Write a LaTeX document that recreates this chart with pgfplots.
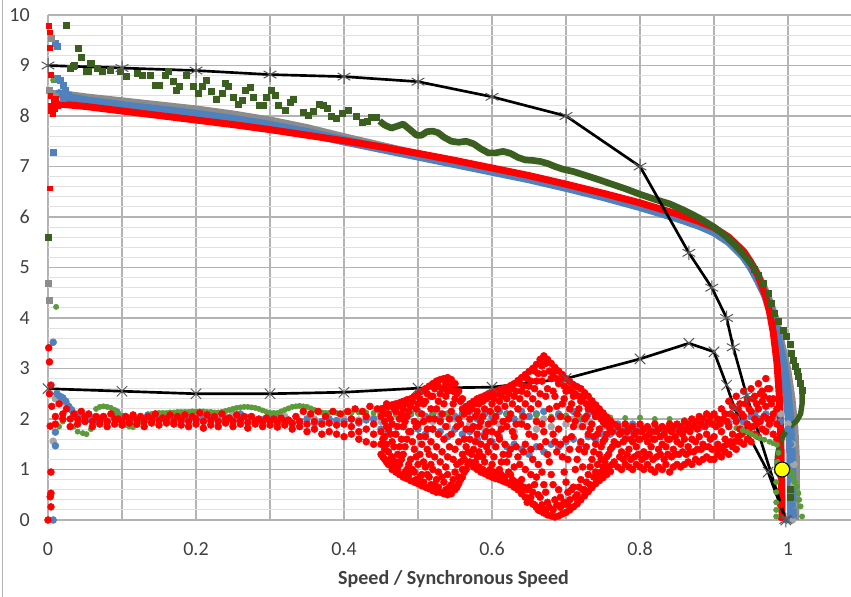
\documentclass[border=0pt]{standalone}
\usepackage{fontspec}
\setmainfont{Carlito}
\usepackage{pgfplots}
\pgfplotsset{compat=1.18}
\definecolor{cRed}{HTML}{FF0000}
\definecolor{cBlue}{HTML}{4F81BD}
\definecolor{cGrayU}{HTML}{8C8C8C}
\definecolor{cGrayL}{HTML}{A5A5A5}
\definecolor{cDkGreen}{HTML}{3A5F1E}
\definecolor{cLtGreen}{HTML}{5C9B3A}
\definecolor{gridMaj}{HTML}{B3B3B3}
\definecolor{gridMin}{HTML}{E0E0E0}
\definecolor{txt}{HTML}{404040}
\definecolor{mk}{HTML}{595959}
\definecolor{cYel}{HTML}{FFFF00}
\begin{document}
\begin{tikzpicture}
\begin{axis}[
  scale only axis, width=602.25pt, height=378.75pt,
  xmin=0, xmax=1.0851, ymin=0, ymax=10,
  clip=false,
  axis line style={draw=none},
  major tick length=0pt, minor tick length=0pt,
  xtick={0,0.1,0.2,0.3,0.4,0.5,0.6,0.7,0.8,0.9,1},
  xticklabels={0,{},0.2,{},0.4,{},0.6,{},0.8,{},1},
  ytick={0,1,2,3,4,5,6,7,8,9,10},
  minor y tick num=4,
  grid=both,
  major grid style={draw=gridMaj, line width=1.1pt},
  minor grid style={draw=gridMin, line width=0.75pt},
  /pgf/number format/assume math mode=true,
  tick label style={font=\fontsize{15}{18}\selectfont, text=txt},
  xticklabel style={anchor=base, yshift=-26.25pt},
  yticklabel style={anchor=east, inner sep=0pt, xshift=-13.5pt},
  every axis x label/.style={at={(axis description cs:0.5,0)}, anchor=base, yshift=-48pt, xshift=3pt, font=\bfseries\fontsize{15}{18}\selectfont, text=txt},
  xlabel={Speed / Synchronous Speed},
  sq/.style={only marks, mark=square*, mark size=2.25pt},
  dt/.style={only marks, mark=*, mark size=2.6pt},
]
% upper gray band
\addplot[cGrayU, line width=6.75pt, line join=round] coordinates {(0.012,8.45)(0.03,8.4)(0.05,8.36)(0.1,8.28)(0.15,8.2)(0.2,8.12)(0.25,8.02)(0.3,7.9)(0.35,7.75)(0.4,7.57)(0.45,7.4)(0.5,7.23)(0.55,7.08)(0.6,6.93)(0.65,6.78)(0.7,6.61)(0.75,6.43)(0.8,6.23)(0.85,6.01)(0.9,5.73)(0.92,5.54)(0.94,5.25)(0.955,4.95)(0.965,4.65)(0.975,4.3)(0.983,3.95)(0.99,3.5)(0.998,3.0)(1.004,2.4)(1.008,1.8)(1.01,1.2)(1.01,0.6)(1.009,0)};
% upper blue band
\addplot[cBlue, line width=7pt, line join=round] coordinates {(0.02,8.38)(0.05,8.3)(0.1,8.2)(0.15,8.12)(0.2,8.03)(0.25,7.93)(0.3,7.81)(0.35,7.67)(0.4,7.51)(0.45,7.36)(0.5,7.21)(0.55,7.06)(0.6,6.91)(0.65,6.76)(0.7,6.59)(0.75,6.41)(0.8,6.21)(0.85,5.99)(0.88,5.84)(0.9,5.71)(0.92,5.52)(0.94,5.23)(0.95,5.02)(0.96,4.75)(0.97,4.45)(0.978,4.1)(0.985,3.65)(0.993,3.1)(0.998,2.6)(1.002,2.0)(1.004,1.3)(1.005,0.6)(1.005,0)};
\addplot[cBlue, sq] coordinates {(0.008,8.72)(0.012,8.74)(0.016,8.7)(0.02,8.6)(0.024,8.5)(0.028,8.42)(0.015,8.45)(0.02,8.35)(0.01,9.44)(0.012,9.38)(0.007,7.29)};
\addplot[cGrayU, sq] coordinates {(0.005,9.54)(0.002,8.51)(0.0,4.69)(0.002,4.36)(0.006,8.45)(0.01,8.4)};
% lower gray dots
\addplot[cGrayL, dt] coordinates {(0.007,1.56)(0.01,2.4)(0.015,2.45)(0.02,2.38)(0.025,2.3)(0.03,2.2)(0.04,2.1)(0.05,2.05)(0.06,1.98)(0.07,2.02)(0.08,1.96)(0.1,2.02)(0.12,1.97)(0.14,2.03)(0.16,1.98)(0.18,2.02)(0.2,1.98)(0.22,2.02)(0.24,2.05)(0.25,2.1)(0.27,2.0)(0.3,2.0)(0.32,2.05)(0.34,1.96)(0.36,2.0)(0.38,1.95)(0.4,2.0)(0.42,1.98)(0.44,2.02)(0.45,1.95)(0.46,2.1)(0.47,1.85)(0.48,2.0)(0.49,2.1)(0.5,1.9)(0.51,2.05)(0.52,1.95)(0.53,2.1)(0.54,1.85)(0.55,2.0)(0.56,2.1)(0.57,1.9)(0.58,2.05)(0.59,1.8)(0.6,2.0)(0.61,1.9)(0.62,2.1)(0.63,1.75)(0.64,1.95)(0.65,2.05)(0.66,1.8)(0.67,2.0)(0.68,1.85)(0.69,2.05)(0.7,1.9)(0.71,2.0)(0.72,1.85)(0.73,1.95)(0.74,2.05)(0.75,1.85)(0.76,1.95)(0.77,1.8)(0.78,1.9)(0.8,1.85)(0.82,1.82)(0.84,1.8)(0.86,1.85)(0.88,1.85)(0.9,1.9)(0.92,1.95)(0.94,1.9)(0.96,2.0)(0.973,1.84)(0.98,2.0)(0.99,2.1)(1.0,1.9)(1.006,1.5)(1.008,1.1)(1.008,0.7)(1.007,0.3)(1.006,0.0)};
% lower blue dots
\addplot[cBlue, dt] coordinates {(0.007,3.52)(0.01,1.74)(0.01,1.47)(0.007,0.0)(0.012,2.5)(0.016,2.45)(0.02,2.42)(0.024,2.35)(0.028,2.25)(0.032,2.18)(0.036,2.1)(0.04,2.05)(0.045,2.0)(0.05,1.98)(0.055,2.0)(0.06,2.02)(0.065,1.95)(0.07,2.0)(0.08,1.95)(0.09,2.08)(0.093,2.14)(0.1,2.05)(0.11,1.95)(0.12,1.98)(0.135,2.08)(0.14,1.95)(0.15,2.0)(0.16,1.97)(0.17,2.03)(0.18,1.95)(0.19,2.0)(0.2,1.97)(0.21,2.02)(0.22,2.05)(0.23,1.98)(0.24,1.95)(0.25,1.97)(0.26,2.1)(0.27,2.03)(0.28,1.95)(0.29,1.98)(0.3,2.05)(0.31,2.02)(0.32,1.96)(0.33,1.9)(0.34,1.95)(0.35,2.0)(0.36,1.92)(0.37,1.95)(0.38,2.0)(0.39,1.97)(0.4,1.95)(0.41,2.0)(0.42,1.92)(0.43,1.98)(0.44,2.0)
(0.45,2.1)(0.45,1.8)(0.46,2.05)(0.46,1.75)(0.47,2.15)(0.47,1.7)(0.48,2.0)(0.48,1.85)(0.49,2.1)(0.49,1.75)(0.5,2.15)(0.5,1.8)(0.51,2.05)(0.51,1.7)(0.52,2.1)(0.52,1.8)(0.53,2.0)(0.53,1.75)(0.54,2.1)(0.54,1.65)(0.55,2.05)(0.55,1.8)(0.56,2.1)(0.56,1.7)(0.57,2.15)(0.57,1.75)(0.58,2.0)(0.58,1.6)(0.59,2.1)(0.59,1.7)(0.6,2.05)(0.6,1.55)(0.61,2.15)(0.61,1.65)(0.62,2.1)(0.62,1.45)(0.63,2.0)(0.63,1.5)(0.64,2.15)(0.64,1.4)(0.65,2.05)(0.65,1.3)(0.66,2.1)(0.66,1.45)(0.67,2.15)(0.67,1.35)(0.68,2.0)(0.68,1.5)(0.69,2.1)(0.69,1.45)(0.7,2.05)(0.7,1.55)(0.71,2.15)(0.71,1.6)(0.72,2.0)(0.72,1.5)(0.73,2.1)(0.73,1.65)(0.74,2.05)(0.74,1.6)(0.75,2.0)(0.75,1.7)(0.76,1.95)(0.76,1.7)(0.77,1.9)(0.77,1.75)(0.78,1.85)(0.78,1.7)(0.79,1.9)(0.79,1.75)(0.8,1.85)(0.8,1.75)
(0.81,1.8)(0.82,1.75)(0.83,1.8)(0.84,1.78)(0.85,1.82)(0.86,1.8)(0.87,1.85)(0.88,1.82)(0.89,1.88)(0.9,1.9)(0.91,1.95)(0.92,1.9)(0.93,2.0)(0.94,1.95)(0.95,2.05)(0.955,2.1)(0.96,2.0)(0.97,2.1)(0.98,2.05)(0.99,1.95)(1.0,1.8)(1.003,1.5)(1.004,1.2)(1.005,0.9)(1.005,0.6)(1.006,0.3)(1.007,0.1)(0.998,0.0)};
% lower light green dots
\addplot[cLtGreen, only marks, mark=*, mark size=2pt] coordinates {(0.007,8.71)(0.011,4.22)(0.015,1.85)(0.02,1.95)(0.03,2.0)(0.035,1.85)(0.04,1.75)(0.047,1.72)(0.052,1.7)(0.058,1.8)(0.065,2.2)(0.07,2.24)(0.075,2.25)(0.08,2.24)(0.085,2.22)(0.09,2.18)(0.095,2.1)(0.1,1.98)(0.105,1.88)(0.11,1.85)(0.115,1.84)(0.12,1.88)(0.125,1.95)(0.13,2.02)(0.135,2.07)(0.14,2.1)(0.145,2.11)(0.15,2.12)(0.155,2.12)(0.16,2.12)(0.165,2.13)(0.17,2.13)(0.175,2.14)(0.18,2.14)(0.185,2.14)(0.19,2.14)(0.195,2.15)(0.2,2.15)(0.205,2.15)(0.21,2.15)(0.215,2.14)(0.22,2.14)(0.225,2.13)(0.23,2.13)(0.235,2.14)(0.24,2.16)(0.245,2.18)(0.25,2.2)(0.255,2.22)(0.26,2.23)(0.265,2.24)(0.27,2.24)(0.275,2.23)(0.28,2.22)(0.285,2.2)(0.29,2.17)(0.295,2.14)(0.3,2.12)(0.305,2.12)(0.31,2.12)(0.315,2.15)(0.32,2.18)(0.325,2.21)(0.33,2.24)(0.335,2.25)(0.34,2.26)(0.345,2.25)(0.35,2.24)(0.355,2.21)(0.36,2.18)(0.365,2.15)(0.37,2.13)(0.375,2.12)(0.38,2.12)(0.39,2.12)(0.4,2.12)(0.41,2.12)(0.42,2.13)(0.43,2.13)(0.44,2.12)(0.45,2.12)(0.46,2.1)(0.47,2.08)(0.48,2.1)(0.49,2.12)(0.5,2.1)(0.52,2.08)(0.54,2.1)(0.56,2.07)(0.58,2.1)(0.6,2.12)(0.62,2.08)(0.64,2.05)(0.66,2.07)(0.68,2.05)(0.7,2.06)(0.72,2.04)(0.74,2.05)(0.76,2.03)(0.78,2.02)(0.8,2.03)(0.82,2.0)(0.84,2.0)(0.86,1.98)(0.88,1.97)(0.9,1.95)(0.91,1.9)(0.92,1.85)(0.93,1.82)};
% upper red band
\addplot[cRed, line width=5.25pt, line join=round] coordinates {(0.005,8.25)(0.05,8.19)(0.1,8.1)(0.15,8.01)(0.2,7.92)(0.25,7.83)(0.3,7.73)(0.35,7.62)(0.4,7.51)(0.45,7.39)(0.5,7.26)(0.55,7.12)(0.6,6.97)(0.65,6.82)(0.7,6.65)(0.75,6.47)(0.8,6.28)(0.85,6.06)(0.88,5.91)(0.9,5.79)(0.92,5.6)(0.94,5.32)(0.95,5.1)(0.96,4.82)(0.97,4.42)(0.975,4.12)(0.98,3.72)(0.985,3.12)(0.988,2.5)(0.99,1.8)(0.991,1.0)(0.992,0)};
\addplot[cRed, only marks, mark=square*, mark size=1.8pt] coordinates {(0.001,9.78)(0.002,9.66)(0.002,9.35)(0.004,8.81)(0.002,6.57)(0.003,8.4)(0.004,8.1)(0.007,8.3)(0.009,8.15)(0.011,8.35)(0.013,8.2)(0.003,8.2)(0.006,8.05)};
% lower red dots
\addplot[cRed, dt] coordinates {(0.001,3.41)(0.002,3.13)(0.004,2.67)(0.002,2.5)(0.003,1.86)(0.004,0.95)(0.004,0.53)(0.003,0.46)(0.004,0.26)(0.0,0.0)
(0.005,2.25)(0.01,1.9)(0.015,2.3)(0.02,2.0)(0.025,2.2)(0.03,1.85)(0.035,2.1)(0.04,1.9)(0.045,2.15)(0.05,1.95)(0.055,2.1)(0.06,1.85)(0.065,2.05)(0.07,1.9)(0.075,2.05)(0.08,1.85)(0.085,2.1)(0.09,1.9)(0.095,2.0)(0.1,1.88)(0.105,2.05)(0.11,1.92)(0.115,2.08)(0.12,1.9)(0.125,2.05)(0.13,1.85)(0.135,2.05)(0.14,1.92)(0.145,2.1)(0.15,1.88)(0.155,2.02)(0.16,1.92)(0.165,2.08)(0.17,1.9)(0.175,2.05)(0.18,1.88)(0.185,2.08)(0.19,1.85)(0.195,2.05)(0.2,1.9)(0.205,2.12)(0.21,1.82)(0.215,2.08)(0.22,1.88)(0.225,2.05)(0.23,1.85)(0.235,2.1)(0.24,1.92)(0.245,2.02)(0.25,1.85)(0.255,2.08)(0.26,1.9)(0.265,2.05)(0.27,1.82)(0.275,2.05)(0.28,1.9)(0.285,2.0)(0.29,1.85)(0.295,2.02)(0.3,1.88)(0.305,2.0)(0.31,1.84)(0.315,2.02)(0.32,1.88)(0.325,1.98)(0.33,1.8)(0.335,2.05)(0.34,1.85)(0.345,2.15)(0.35,1.75)(0.355,2.1)(0.36,1.8)(0.365,2.15)(0.37,1.7)(0.375,2.05)(0.38,1.75)(0.385,2.15)(0.39,1.7)(0.395,2.1)(0.4,1.65)(0.405,2.15)(0.41,1.7)(0.415,2.2)(0.42,1.6)(0.425,2.15)(0.43,1.55)(0.435,2.25)(0.44,1.5)(0.445,2.2)
(0.01,2.05)(0.02,2.1)(0.03,2.0)(0.04,2.0)(0.05,2.05)(0.06,1.95)(0.07,1.98)(0.08,1.95)(0.09,2.0)(0.1,1.95)(0.11,2.0)(0.12,1.98)(0.13,1.95)(0.14,2.0)(0.15,1.97)(0.16,2.0)(0.17,1.95)(0.18,1.98)(0.19,1.95)(0.2,2.0)(0.21,1.95)(0.22,1.97)(0.23,1.95)(0.24,2.0)(0.25,1.95)(0.26,1.97)(0.27,1.93)(0.28,1.96)(0.29,1.93)(0.3,1.95)(0.31,1.92)(0.32,1.95)(0.33,1.92)(0.34,1.95)(0.35,1.9)(0.36,1.95)(0.37,1.9)(0.38,1.92)(0.39,1.88)(0.4,1.9)(0.41,1.85)(0.42,1.95)(0.43,1.8)(0.44,1.9)(0.41,2.0)(0.42,1.75)(0.43,2.05)(0.44,1.7)
(0.45,2.2)(0.45,2.05)(0.45,1.75)(0.45,1.5)(0.45,1.3)
(0.455,2.22)(0.455,1.95)(0.455,1.65)(0.455,1.4)(0.455,1.2)
(0.46,2.25)(0.46,2.1)(0.46,1.8)(0.46,1.35)(0.46,1.1)
(0.465,2.28)(0.465,1.9)(0.465,1.55)(0.465,1.25)(0.465,1.0)
(0.47,2.3)(0.47,2.15)(0.47,1.7)(0.47,1.15)(0.47,0.95)
(0.475,2.32)(0.475,2.0)(0.475,1.45)(0.475,1.1)(0.475,0.9)
(0.48,2.35)(0.48,2.2)(0.48,1.85)(0.48,1.3)(0.48,0.85)
(0.485,2.38)(0.485,2.05)(0.485,1.6)(0.485,1.0)(0.485,0.82)
(0.49,2.4)(0.49,2.25)(0.49,1.75)(0.49,1.2)(0.49,0.78)
(0.495,2.45)(0.495,1.95)(0.495,1.4)(0.495,0.95)(0.495,0.75)
(0.5,2.5)(0.5,2.3)(0.5,1.9)(0.5,1.1)(0.5,0.72)
(0.505,2.55)(0.505,2.1)(0.505,1.5)(0.505,0.9)(0.505,0.68)
(0.51,2.6)(0.51,2.35)(0.51,1.65)(0.51,1.05)(0.51,0.65)
(0.515,2.65)(0.515,2.0)(0.515,1.3)(0.515,0.85)(0.515,0.62)
(0.52,2.7)(0.52,2.45)(0.52,1.8)(0.52,1.0)(0.52,0.58)
(0.525,2.75)(0.525,2.2)(0.525,1.45)(0.525,0.8)(0.525,0.55)
(0.53,2.78)(0.53,2.5)(0.53,1.95)(0.53,1.15)(0.53,0.55)
(0.535,2.8)(0.535,2.3)(0.535,1.6)(0.535,0.75)(0.535,0.52)
(0.54,2.82)(0.54,2.55)(0.54,1.25)(0.54,0.9)(0.54,0.5)
(0.545,2.78)(0.545,2.15)(0.545,1.7)(0.545,0.7)(0.545,0.52)
(0.55,2.7)(0.55,2.4)(0.55,1.4)(0.55,0.95)(0.55,0.6)
(0.555,2.55)(0.555,2.0)(0.555,1.55)(0.555,0.85)(0.555,0.72)
(0.56,2.4)(0.56,2.2)(0.56,1.3)(0.56,1.0)(0.56,0.85)
(0.565,2.25)(0.565,1.8)(0.565,1.45)(0.565,1.0)
(0.4525,2.1)(0.4525,1.6)(0.4525,1.25)(0.4575,2.3)(0.4575,1.85)(0.4575,1.5)(0.4575,1.15)(0.4625,2.0)(0.4625,1.7)(0.4625,1.2)(0.4675,2.2)(0.4675,1.45)(0.4675,1.1)(0.4725,2.25)(0.4725,1.85)(0.4725,1.3)(0.4725,1.0)(0.4775,2.1)(0.4775,1.6)(0.4775,1.2)(0.4825,2.3)(0.4825,1.95)(0.4825,1.45)(0.4825,0.95)(0.4875,2.15)(0.4875,1.75)(0.4875,1.1)(0.4875,0.9)(0.4925,2.35)(0.4925,1.55)(0.4925,1.0)(0.4975,2.2)(0.4975,1.85)(0.4975,1.25)(0.4975,0.8)(0.5025,2.4)(0.5025,1.65)(0.5025,1.3)(0.5025,0.85)(0.5075,2.3)(0.5075,1.95)(0.5075,1.15)(0.5075,0.75)(0.5125,2.5)(0.5125,1.8)(0.5125,1.4)(0.5125,0.9)(0.5175,2.45)(0.5175,2.2)(0.5175,1.55)(0.5175,1.1)(0.5175,0.7)(0.5225,2.6)(0.5225,2.0)(0.5225,1.25)(0.5225,0.7)(0.5275,2.65)(0.5275,2.35)(0.5275,1.7)(0.5275,0.95)(0.5275,0.65)(0.5325,2.6)(0.5325,2.1)(0.5325,1.35)(0.5325,0.85)(0.5375,2.7)(0.5375,2.45)(0.5375,1.85)(0.5375,1.05)(0.5375,0.6)(0.5425,2.65)(0.5425,2.0)(0.5425,1.45)(0.5425,0.65)(0.5475,2.55)(0.5475,2.3)(0.5475,1.2)(0.5475,0.8)(0.5525,2.5)(0.5525,1.85)(0.5525,1.1)(0.5525,0.65)(0.5575,2.35)(0.5575,1.9)(0.5575,1.15)(0.5575,0.8)(0.5625,2.1)(0.5625,1.6)(0.5625,1.2)(0.5625,0.95)(0.5675,2.15)(0.5675,1.35)(0.5675,1.1)
(0.57,2.3)(0.57,2.0)(0.57,1.6)(0.57,1.15)
(0.575,2.35)(0.575,1.85)(0.575,1.4)(0.575,1.05)
(0.58,2.4)(0.58,2.15)(0.58,1.7)(0.58,1.25)(0.58,1.0)
(0.585,2.43)(0.585,1.95)(0.585,1.5)(0.585,0.95)
(0.59,2.46)(0.59,2.2)(0.59,1.65)(0.59,1.15)(0.59,0.92)
(0.595,2.5)(0.595,1.9)(0.595,1.35)(0.595,0.88)
(0.6,2.52)(0.6,2.3)(0.6,1.75)(0.6,1.1)(0.6,0.85)
(0.605,2.55)(0.605,2.05)(0.605,1.45)(0.605,0.82)
(0.61,2.58)(0.61,2.35)(0.61,1.6)(0.61,1.0)(0.61,0.8)
(0.615,2.6)(0.615,1.95)(0.615,1.3)(0.615,0.77)
(0.62,2.62)(0.62,2.4)(0.62,1.85)(0.62,1.15)(0.62,0.74)
(0.625,2.66)(0.625,2.1)(0.625,1.4)(0.625,0.9)(0.625,0.7)
(0.63,2.7)(0.63,2.45)(0.63,1.65)(0.63,1.05)(0.63,0.65)
(0.635,2.76)(0.635,2.2)(0.635,1.25)(0.635,0.6)
(0.64,2.82)(0.64,2.55)(0.64,1.9)(0.64,0.8)(0.64,0.52)
(0.645,2.88)(0.645,2.3)(0.645,1.5)(0.645,1.0)(0.645,0.45)
(0.65,2.94)(0.65,2.65)(0.65,1.7)(0.65,0.65)(0.65,0.38)
(0.655,3.0)(0.655,2.4)(0.655,1.2)(0.655,0.55)(0.655,0.32)
(0.66,3.08)(0.66,2.75)(0.66,1.95)(0.66,0.85)(0.66,0.25)
(0.665,3.18)(0.665,2.5)(0.665,1.45)(0.665,0.45)(0.665,0.18)
(0.67,3.25)(0.67,2.9)(0.67,1.75)(0.67,0.7)(0.67,0.14)
(0.675,3.18)(0.675,2.6)(0.675,1.3)(0.675,0.35)(0.675,0.1)
(0.68,3.1)(0.68,2.8)(0.68,2.0)(0.68,0.9)(0.68,0.08)
(0.685,3.02)(0.685,2.45)(0.685,1.55)(0.685,0.4)(0.685,0.06)
(0.69,2.95)(0.69,2.7)(0.69,1.8)(0.69,0.6)(0.69,0.08)
(0.695,2.88)(0.695,2.3)(0.695,1.25)(0.695,0.3)(0.695,0.12)
(0.7,2.8)(0.7,2.55)(0.7,1.6)(0.7,0.75)(0.7,0.15)
(0.705,2.74)(0.705,2.2)(0.705,1.4)(0.705,0.4)(0.705,0.2)
(0.71,2.68)(0.71,2.45)(0.71,1.85)(0.71,0.65)(0.71,0.26)
(0.715,2.64)(0.715,2.1)(0.715,1.2)(0.715,0.5)(0.715,0.32)
(0.72,2.6)(0.72,2.35)(0.72,1.55)(0.72,0.8)(0.72,0.4)
(0.725,2.52)(0.725,2.0)(0.725,1.35)(0.725,0.6)(0.725,0.48)
(0.73,2.45)(0.73,2.2)(0.73,1.7)(0.73,0.9)(0.73,0.56)
(0.735,2.36)(0.735,1.9)(0.735,1.2)(0.735,0.64)
(0.74,2.28)(0.74,2.05)(0.74,1.5)(0.74,0.95)(0.74,0.72)
(0.745,2.2)(0.745,1.8)(0.745,1.3)(0.745,0.78)
(0.75,2.12)(0.75,1.95)(0.75,1.55)(0.75,1.05)(0.75,0.84)
(0.755,2.04)(0.755,1.7)(0.755,1.25)(0.755,0.9)
(0.76,1.96)(0.76,1.8)(0.76,1.4)(0.76,0.96)
(0.765,1.9)(0.765,1.55)(0.765,1.15)
(0.5725,2.2)(0.5725,1.8)(0.5725,1.3)(0.5775,2.3)(0.5775,2.05)(0.5775,1.55)(0.5775,1.15)(0.5825,2.3)(0.5825,1.85)(0.5825,1.35)(0.5825,1.05)(0.5875,2.35)(0.5875,2.05)(0.5875,1.25)(0.5875,1.0)(0.5925,2.4)(0.5925,1.75)(0.5925,1.45)(0.5925,0.95)(0.5975,2.45)(0.5975,2.15)(0.5975,1.55)(0.5975,1.0)(0.6025,2.4)(0.6025,1.95)(0.6025,1.25)(0.6025,0.95)(0.6075,2.5)(0.6075,2.2)(0.6075,1.7)(0.6075,0.95)(0.6125,2.45)(0.6125,1.8)(0.6125,1.15)(0.6125,0.9)(0.6175,2.55)(0.6175,2.25)(0.6175,1.5)(0.6175,0.85)(0.6225,2.5)(0.6225,2.0)(0.6225,1.3)(0.6225,0.95)(0.6275,2.6)(0.6275,2.3)(0.6275,1.75)(0.6275,0.8)(0.6325,2.55)(0.6325,1.9)(0.6325,1.45)(0.6325,0.75)(0.6375,2.7)(0.6375,2.4)(0.6375,1.1)(0.6375,0.7)(0.6425,2.65)(0.6425,2.05)(0.6425,1.35)(0.6425,0.65)(0.6475,2.8)(0.6475,2.5)(0.6475,1.85)(0.6475,0.6)(0.6475,0.35)(0.6525,2.75)(0.6525,2.2)(0.6525,1.4)(0.6525,0.9)(0.6525,0.45)(0.6575,2.95)(0.6575,2.6)(0.6575,1.65)(0.6575,0.7)(0.6575,0.3)(0.6625,2.9)(0.6625,2.3)(0.6625,1.1)(0.6625,0.5)(0.6625,0.2)(0.6675,3.05)(0.6675,2.75)(0.6675,1.9)(0.6675,0.95)(0.6675,0.3)(0.6725,3.1)(0.6725,2.45)(0.6725,1.55)(0.6725,0.55)(0.6725,0.2)(0.6775,2.95)(0.6775,2.2)(0.6775,1.15)(0.6775,0.25)(0.6825,2.9)(0.6825,2.55)(0.6825,1.7)(0.6825,0.7)(0.6825,0.2)(0.6875,2.8)(0.6875,2.25)(0.6875,1.35)(0.6875,0.3)(0.6925,2.75)(0.6925,2.05)(0.6925,1.5)(0.6925,0.45)(0.6925,0.25)(0.6975,2.65)(0.6975,2.4)(0.6975,0.95)(0.6975,0.35)(0.7025,2.6)(0.7025,2.0)(0.7025,1.2)(0.7025,0.55)(0.7025,0.3)(0.7075,2.55)(0.7075,2.3)(0.7075,1.65)(0.7075,0.6)(0.7125,2.5)(0.7125,1.95)(0.7125,1.0)(0.7125,0.45)(0.7175,2.45)(0.7175,2.2)(0.7175,1.4)(0.7175,0.65)(0.7225,2.4)(0.7225,1.85)(0.7225,1.05)(0.7225,0.6)(0.7275,2.3)(0.7275,2.05)(0.7275,1.45)(0.7275,0.75)(0.7325,2.25)(0.7325,1.8)(0.7325,1.05)(0.7325,0.7)(0.7375,2.15)(0.7375,1.65)(0.7375,1.35)(0.7375,0.85)(0.7425,2.1)(0.7425,1.7)(0.7425,1.1)(0.7425,0.85)(0.7475,2.0)(0.7475,1.45)(0.7475,1.2)(0.7475,0.95)(0.7525,1.9)(0.7525,1.6)(0.7525,1.15)(0.7525,0.95)(0.7575,1.85)(0.7575,1.3)(0.7575,1.05)(0.7625,1.75)(0.7625,1.45)(0.7625,1.1)
(0.77,1.85)(0.77,1.05)(0.77,1.5)(0.775,1.75)(0.775,1.0)(0.775,1.35)(0.78,1.9)(0.78,1.1)(0.78,1.6)(0.785,1.8)(0.785,1.05)(0.785,1.4)(0.79,1.85)(0.79,1.0)(0.79,1.55)(0.795,1.75)(0.795,1.1)(0.795,1.45)(0.8,1.9)(0.8,1.05)(0.8,1.6)(0.805,1.8)(0.805,1.0)(0.805,1.35)(0.81,1.85)(0.81,1.1)(0.81,1.55)(0.815,1.75)(0.815,1.0)(0.815,1.45)(0.82,1.9)(0.82,0.95)(0.82,1.6)(0.825,1.8)(0.825,1.05)(0.825,1.4)(0.83,1.85)(0.83,1.0)(0.83,1.5)(0.835,1.8)(0.835,1.1)(0.835,1.45)(0.84,1.9)(0.84,0.95)(0.84,1.6)(0.845,1.85)(0.845,1.05)(0.845,1.4)(0.85,1.9)(0.85,1.1)(0.85,1.55)(0.855,1.85)(0.855,1.05)(0.855,1.5)(0.86,1.95)(0.86,1.1)(0.86,1.6)(0.865,1.9)(0.865,1.15)(0.865,1.45)(0.87,2.0)(0.87,1.1)(0.87,1.6)(0.875,1.95)(0.875,1.2)(0.875,1.55)(0.88,2.05)(0.88,1.15)(0.88,1.65)(0.885,2.0)(0.885,1.2)(0.885,1.5)(0.89,2.1)(0.89,1.25)(0.89,1.7)(0.895,2.05)(0.895,1.2)(0.895,1.6)
(0.7725,1.7)(0.7725,1.25)(0.7775,1.55)(0.7775,1.2)(0.7825,1.75)(0.7825,1.3)(0.7875,1.6)(0.7875,1.2)(0.7925,1.7)(0.7925,1.25)(0.7975,1.6)(0.7975,1.3)(0.8025,1.75)(0.8025,1.2)(0.8075,1.65)(0.8075,1.25)(0.8125,1.7)(0.8125,1.3)(0.8175,1.6)(0.8175,1.2)(0.8225,1.75)(0.8225,1.25)(0.8275,1.65)(0.8275,1.3)(0.8325,1.7)(0.8325,1.2)(0.8375,1.6)(0.8375,1.3)(0.8425,1.75)(0.8425,1.25)(0.8475,1.65)(0.8475,1.3)(0.8525,1.75)(0.8525,1.3)(0.8575,1.7)(0.8575,1.35)(0.8625,1.8)(0.8625,1.3)(0.8675,1.75)(0.8675,1.35)(0.8725,1.85)(0.8725,1.35)(0.8775,1.8)(0.8775,1.4)(0.8825,1.9)(0.8825,1.4)(0.8875,1.85)(0.8875,1.45)(0.8925,1.95)(0.8925,1.45)(0.8975,1.9)(0.8975,1.4)
(0.9,2.1)(0.9,1.2)(0.9,1.65)(0.905,2.0)(0.905,1.3)(0.905,1.5)(0.91,2.2)(0.91,1.25)(0.91,1.75)(0.915,2.1)(0.915,1.35)(0.915,1.6)(0.92,2.35)(0.92,1.3)(0.92,1.85)(0.925,2.25)(0.925,1.45)(0.925,1.7)(0.93,2.45)(0.93,1.4)(0.93,1.95)(0.935,2.3)(0.935,1.55)(0.935,1.8)(0.94,2.55)(0.94,1.5)(0.94,2.05)(0.945,2.4)(0.945,1.6)(0.945,1.9)(0.95,2.6)(0.95,1.55)(0.95,2.15)(0.955,2.45)(0.955,1.7)(0.955,2.0)(0.96,2.7)(0.96,1.65)(0.96,2.2)(0.965,2.55)(0.965,1.8)(0.965,2.35)(0.97,2.8)(0.97,1.75)(0.97,2.25)(0.975,2.6)(0.975,1.9)(0.975,2.4)(0.98,2.4)(0.98,1.7)(0.98,2.1)(0.985,2.2)(0.985,1.6)(0.985,1.9)(0.987,1.5)(0.988,1.2)(0.989,0.9)(0.99,0.6)(0.99,0.3)(0.991,0.05)
(0.9025,1.85)(0.9025,1.4)(0.9075,1.9)(0.9075,1.4)(0.9125,2.0)(0.9125,1.45)(0.9175,1.95)(0.9175,1.5)(0.9225,2.1)(0.9225,1.55)(0.9275,2.05)(0.9275,1.55)(0.9325,2.2)(0.9325,1.65)(0.9375,2.1)(0.9375,1.7)(0.9425,2.3)(0.9425,1.75)(0.9475,2.2)(0.9475,1.8)(0.9525,2.4)(0.9525,1.85)(0.9575,2.3)(0.9575,1.9)(0.9625,2.5)(0.9625,1.95)(0.9675,2.45)(0.9675,2.05)(0.9725,2.6)(0.9725,2.0)(0.9775,2.3)(0.9775,2.0)};
% light green tail
\addplot[cLtGreen, only marks, mark=*, mark size=2pt] coordinates {(0.939,1.78)(0.945,1.74)(0.95,1.7)(0.956,1.66)(0.962,1.62)(0.968,1.59)(0.975,1.55)(0.98,1.52)(0.985,1.49)(0.987,1.33)(0.986,1.15)(0.985,0.95)(0.984,0.75)(0.984,0.55)(0.984,0.35)(0.984,0.2)(0.984,0.07)(1.005,0.95)(1.007,0.85)(1.009,0.75)(1.012,0.66)(1.014,0.53)(1.015,0.4)(1.017,0.27)(1.019,0.07)};
% dark green squares
\addplot[cDkGreen, sq] coordinates {(0.0,5.6)(0.025,9.8)(0.03,8.95)(0.034,8.98)(0.036,9.0)(0.041,9.34)(0.045,9.17)(0.052,8.88)(0.054,8.88)(0.057,9.04)(0.059,9.04)(0.066,8.95)(0.073,8.88)(0.084,8.91)(0.097,8.88)(0.106,8.78)(0.12,8.85)(0.127,8.81)(0.138,8.81)(0.145,8.61)(0.151,8.61)(0.158,8.8)(0.162,8.88)(0.169,8.68)(0.174,8.5)(0.178,8.58)(0.187,8.81)(0.196,8.58)(0.203,8.45)(0.208,8.58)(0.214,8.71)(0.221,8.48)(0.228,8.33)(0.235,8.45)(0.239,8.65)(0.243,8.58)(0.25,8.38)(0.257,8.24)(0.262,8.32)(0.266,8.51)(0.273,8.56)(0.277,8.38)(0.286,8.21)(0.291,8.22)(0.295,8.37)(0.302,8.5)(0.307,8.42)(0.311,8.22)(0.32,8.12)(0.327,8.28)(0.331,8.34)(0.345,8.08)(0.352,8.02)(0.359,8.09)(0.366,8.24)(0.372,8.22)(0.377,8.15)(0.383,8.0)(0.39,7.95)(0.397,8.05)(0.406,8.12)(0.417,7.99)(0.424,7.88)(0.431,7.9)(0.437,7.98)(0.443,7.97)
(0.955,4.97)(0.96,4.85)(0.966,4.69)(0.973,4.49)(0.978,4.29)(0.982,4.09)(0.987,3.93)(0.994,3.76)(0.998,3.63)(1.003,3.47)(1.005,3.3)(1.007,3.17)(1.01,3.04)(1.012,2.95)(1.014,2.84)(1.016,2.71)(1.019,2.57)(1.003,0.6)(1.003,0.45)};
\addplot[cDkGreen, line width=5pt, line join=round] coordinates {(0.448,7.9)(0.455,7.82)(0.464,7.76)(0.472,7.8)(0.48,7.84)(0.49,7.72)(0.498,7.62)(0.505,7.62)(0.512,7.69)(0.52,7.7)(0.527,7.67)(0.535,7.58)(0.545,7.5)(0.555,7.48)(0.565,7.5)(0.575,7.45)(0.585,7.35)(0.595,7.27)(0.605,7.27)(0.615,7.3)(0.625,7.26)(0.635,7.18)(0.645,7.13)(0.655,7.12)(0.665,7.1)(0.675,7.06)(0.685,7.0)(0.695,6.95)(0.71,6.9)(0.725,6.83)(0.74,6.76)(0.76,6.66)(0.78,6.56)(0.8,6.45)(0.82,6.35)(0.84,6.26)(0.86,6.13)(0.88,5.98)(0.9,5.8)(0.915,5.63)(0.93,5.42)(0.945,5.17)(0.952,5.03)};
\addplot[cDkGreen, line width=4pt, line join=round] coordinates {(1.019,2.5)(1.019,2.3)(1.017,2.1)(1.012,1.97)(1.005,1.88)(0.998,1.78)(0.993,1.65)(0.989,1.5)(0.986,1.32)(0.985,1.15)(0.985,1.0)};
% black reference curves
\addplot[black, line width=2pt, mark=asterisk, mark options={draw=mk, line width=0.75pt, mark size=5.5pt}] coordinates {(0,9)(0.1,8.95)(0.2,8.9)(0.3,8.82)(0.4,8.78)(0.5,8.68)(0.6,8.38)(0.7,8.0)(0.8,7.0)(0.866,5.29)(0.897,4.6)(0.917,4.0)(0.926,3.42)(0.944,2.47)(0.997,0)};
\addplot[black, line width=2pt, mark=x, mark options={draw=mk, line width=0.75pt, mark size=5.5pt}] coordinates {(0,2.6)(0.1,2.55)(0.2,2.5)(0.3,2.5)(0.4,2.53)(0.5,2.61)(0.6,2.63)(0.7,2.8)(0.8,3.19)(0.866,3.5)(0.9,3.33)(0.917,2.67)(0.928,2.2)(0.973,0.95)(0.997,0)};
% operating point
\addplot[only marks, mark=*, mark size=5.6pt, mark options={fill=cYel, draw=black, line width=0.75pt}] coordinates {(0.992,1.0)};
\end{axis}
\pgfresetboundingbox
\path[use as bounding box] ([shift={(-36pt,-57.75pt)}]current axis.south west) rectangle ([shift={(602.25pt,390pt)}]current axis.south west);
\draw[gridMaj, line width=0.75pt] ([shift={(-34.5pt,-57.75pt)}]current axis.south west) -- ([shift={(-34.5pt,390pt)}]current axis.south west);
\end{tikzpicture}
\end{document}
